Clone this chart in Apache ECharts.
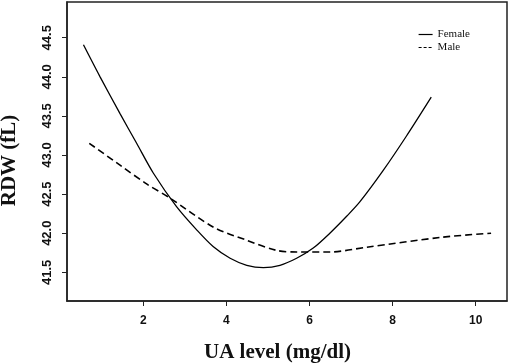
<!DOCTYPE html>
<html>
<head>
<meta charset="utf-8">
<script src="https://cdn.jsdelivr.net/npm/echarts@6/dist/echarts.min.js"></script>
<style>
  html, body { margin: 0; padding: 0; background: #fff; }
  #chart { width: 510px; height: 363px; }
</style>
</head>
<body>
<div id="chart"></div>
<script>
// values
const femaleX = [0.56, 0.96, 1.44, 1.84, 2.24, 2.80, 3.29, 3.68, 4.09, 4.49, 4.89, 5.29, 5.69, 6.09, 6.49, 6.90, 7.21, 7.77, 8.33, 8.93];
const femaleY = [44.41, 44.00, 43.53, 43.15, 42.77, 42.34, 42.04, 41.83, 41.68, 41.59, 41.56, 41.59, 41.68, 41.81, 42.00, 42.22, 42.40, 42.80, 43.24, 43.74];
const maleX = [0.70, 1.44, 2.08, 2.64, 3.68, 4.49, 5.21, 5.69, 6.49, 7.37, 9.21, 10.37];
const maleY = [43.15, 42.87, 42.63, 42.45, 42.08, 41.91, 41.78, 41.76, 41.76, 41.82, 41.95, 42.00];
const xTicks = [2, 4, 6, 8, 10];
const yTicks = [41.5, 42.0, 42.5, 43.0, 43.5, 44.0, 44.5];

const pairs = (xs, ys) => xs.map((x, i) => [x, ys[i]]);

const chart = echarts.init(document.getElementById('chart'));

const sansBold = { fontFamily: 'Liberation Sans, Arial, sans-serif', fontWeight: 'bold', color: '#111' };
const serifBold = { fontFamily: 'Liberation Serif, Times New Roman, serif', fontWeight: 'bold', fontSize: 21, color: '#111' };

chart.setOption({
  animation: false,
  grid: {
    left: 67, right: 3, top: 2, bottom: 62,
    outerBoundsMode: 'none',
    show: true, borderColor: '#222', borderWidth: 1.5
  },
  legend: {
    orient: 'vertical',
    left: 413,
    top: 24,
    itemWidth: 14,
    itemHeight: 11,
    itemGap: 2,
    itemStyle: { opacity: 0 },
    textStyle: { fontFamily: 'Liberation Serif, Times New Roman, serif', fontSize: 11, color: '#111' },
    data: [
      { name: 'Female', lineStyle: { width: 1.2 } },
      { name: 'Male', lineStyle: { width: 1.2, type: [3, 2] } }
    ]
  },
  xAxis: {
    type: 'value',
    min: 0.164,
    max: 10.753,
    name: 'UA level (mg/dl)',
    nameLocation: 'middle',
    nameGap: 41,
    nameTextStyle: Object.assign({ padding: [0, 19, 0, 0] }, serifBold),
    splitLine: { show: false },
    axisLine: { show: true, lineStyle: { color: '#222', width: 1.5 } },
    axisTick: { show: true, length: 5, customValues: xTicks, lineStyle: { color: '#222' } },
    axisLabel: Object.assign({ fontSize: 12, margin: 14, customValues: xTicks }, sansBold)
  },
  yAxis: {
    type: 'value',
    min: 41.133,
    max: 44.957,
    name: 'RDW (fL)',
    nameLocation: 'middle',
    nameGap: 47,
    nameTextStyle: Object.assign({ padding: [0, 18, 0, 0] }, serifBold),
    splitLine: { show: false },
    axisLine: { show: true, lineStyle: { color: '#222', width: 1.5 } },
    axisTick: { show: true, length: 5, customValues: yTicks, lineStyle: { color: '#222' } },
    axisLabel: Object.assign({
      fontSize: 13, margin: 13, rotate: 90, customValues: yTicks,
      formatter: v => v.toFixed(1)
    }, sansBold)
  },
  series: [
    {
      name: 'Female',
      type: 'line',
      smooth: 0.3,
      symbol: 'none',
      data: pairs(femaleX, femaleY),
      lineStyle: { color: '#000', width: 1.3, type: 'solid' },
      itemStyle: { color: '#000' }
    },
    {
      name: 'Male',
      type: 'line',
      smooth: 0.3,
      symbol: 'none',
      data: pairs(maleX, maleY),
      lineStyle: { color: '#000', width: 1.6, type: [7, 4] },
      itemStyle: { color: '#000' }
    }
  ]
});
</script>
</body>
</html>
